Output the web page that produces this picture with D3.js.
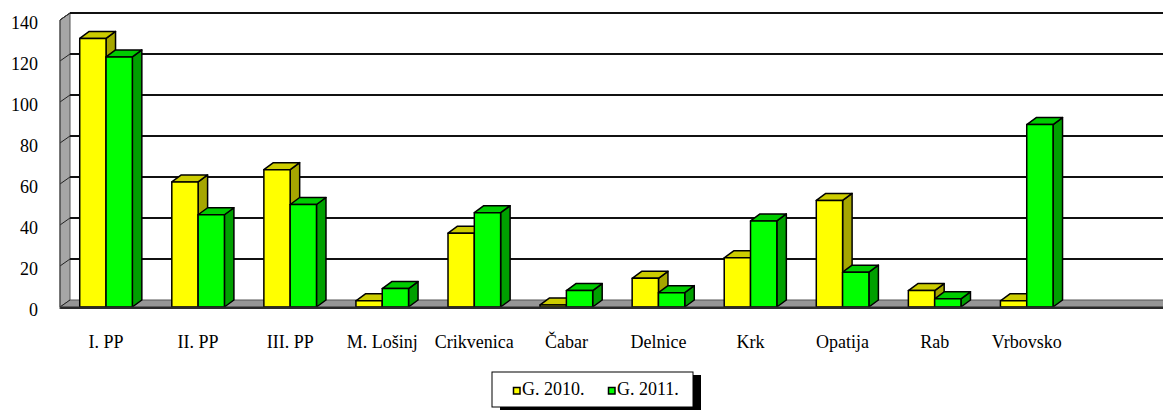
<!DOCTYPE html>
<html>
<head>
<meta charset="utf-8">
<script src="https://cdn.jsdelivr.net/npm/d3@7"></script>
<style>
  body { margin: 0; background: #fff; }
  svg { display: block; }
  svg text { font-family: "Liberation Serif", "Times New Roman", serif !important; font-size: 18px; fill: #000; }
</style>
</head>
<body>
<script>
// Data
const categories = ["I. PP", "II. PP", "III. PP", "M. Lošinj", "Crikvenica", "Čabar", "Delnice", "Krk", "Opatija", "Rab", "Vrbovsko"];
const seriesNames = ["G. 2010.", "G. 2011."];
const values2010 = [131, 61, 67, 3, 36, 1, 14, 24, 52, 8, 3];
const values2011 = [122, 45, 50, 9, 46, 8, 7, 42, 17, 4, 89];
const yTicks = [0, 20, 40, 60, 80, 100, 120, 140];

const series = [
  { name: seriesNames[0], values: values2010, front: "#ffff00", top: "#cccc00", side: "#a6a600" },
  { name: seriesNames[1], values: values2011, front: "#00ff00", top: "#00cc00", side: "#00a000" },
];

const width = 1163, height = 410;
const x0 = 60;          // front left corner of the floor
const slot = 92.07;     // width of one category slot
const DX = 10, DY = 7;  // 3d depth offset of walls / floor
const BDX = 9.5;        // depth offset of bars

const svg = d3.select("body").append("svg")
  .attr("width", width)
  .attr("height", height);

// scales
const x = d3.scaleBand().domain(categories).range([x0, x0 + categories.length * slot]);
const xs = d3.scaleBand().domain(seriesNames).range([0, x.bandwidth()]).paddingOuter(0.75);
const yBack = d3.scaleLinear().domain([0, 140]).range([300, 13]);
const yFront = d3.scaleLinear().domain([0, 140]).range([300 + DY, 13 + DY]);

const right = x0 + 12 * slot + DX + 20;

// left wall
svg.append("path")
  .attr("d", `M${x0},${yFront(0)} L${x0},${yFront(140)} L${x0 + DX},${yBack(140)} L${x0 + DX},${yBack(0)} Z`)
  .attr("fill", "#a6a6a6")
  .attr("stroke", "#555")
  .attr("stroke-width", 1);

// floor
svg.append("path")
  .attr("d", `M${x0},${yFront(0)} L${x0 + DX},${yBack(0)} L${right},${yBack(0)} L${right},${yFront(0)} Z`)
  .attr("fill", "#969696");

// gridlines on back wall + side wall
const grid = svg.append("g");
grid.selectAll("line.back")
  .data(yTicks.filter((d) => d > 0))
  .enter()
  .append("line")
  .attr("class", "back")
  .attr("x1", x0 + DX)
  .attr("x2", right)
  .attr("y1", (d) => yBack(d))
  .attr("y2", (d) => yBack(d))
  .attr("stroke", "#111")
  .attr("stroke-width", 2);

grid.selectAll("line.side")
  .data(yTicks)
  .enter()
  .append("line")
  .attr("class", "side")
  .attr("x1", x0)
  .attr("x2", x0 + DX)
  .attr("y1", (d) => yFront(d))
  .attr("y2", (d) => yBack(d))
  .attr("stroke", "#222")
  .attr("stroke-width", 1);

// floor back edge
svg.append("line")
  .attr("x1", x0 + DX).attr("x2", right)
  .attr("y1", yBack(0)).attr("y2", yBack(0))
  .attr("stroke", "#555").attr("stroke-width", 1);

// bars
const bars = svg.append("g");
categories.forEach((c, i) => {
  series.forEach((s) => {
    const v = s.values[i];
    const bx = x(c) + xs(s.name);
    const bw = xs.bandwidth();
    const yt = yFront(v);
    const yb = yFront(0);
    const g = bars.append("g")
      .attr("stroke", "#000")
      .attr("stroke-width", 1.5)
      .attr("stroke-linejoin", "round");
    // side
    g.append("path")
      .attr("d", `M${bx + bw},${yt} L${bx + bw + BDX},${yt - DY} L${bx + bw + BDX},${yb - DY} L${bx + bw},${yb} Z`)
      .attr("fill", s.side);
    // top
    g.append("path")
      .attr("d", `M${bx},${yt} L${bx + BDX},${yt - DY} L${bx + bw + BDX},${yt - DY} L${bx + bw},${yt} Z`)
      .attr("fill", s.top);
    // front
    g.append("rect")
      .attr("x", bx)
      .attr("y", yt)
      .attr("width", bw)
      .attr("height", yb - yt)
      .attr("fill", s.front);
  });
});

// floor front edge
svg.append("line")
  .attr("x1", x0).attr("x2", right)
  .attr("y1", yFront(0) + 0.8).attr("y2", yFront(0) + 0.8)
  .attr("stroke", "#2a2a2a").attr("stroke-width", 2.5);

// left front axis line
svg.append("line")
  .attr("x1", x0).attr("x2", x0)
  .attr("y1", yFront(140)).attr("y2", yFront(0) + 2)
  .attr("stroke", "#444").attr("stroke-width", 1);

// top edge of side wall
svg.append("line")
  .attr("x1", x0).attr("y1", yFront(140))
  .attr("x2", x0 + DX).attr("y2", yBack(140))
  .attr("stroke", "#333").attr("stroke-width", 1);

// Y axis labels
const yAxis = d3.axisLeft(yFront).tickValues(yTicks).tickSize(0).tickPadding(0);
svg.append("g")
  .attr("transform", "translate(38,2.5)")
  .attr("font-family", "Liberation Serif")
  .attr("font-size", 18)
  .call(yAxis)
  .call((g) => g.select(".domain").remove())
  .selectAll("text")
  .style("font-family", "'Liberation Serif', serif")
  .style("font-size", "18px")
  .attr("fill", "#000");

// X axis labels
const xAxis = d3.axisBottom(x).tickSize(0).tickPadding(28.5);
svg.append("g")
  .attr("transform", `translate(0,${yFront(0)})`)
  .attr("font-family", "Liberation Serif")
  .attr("font-size", 18)
  .call(xAxis)
  .call((g) => g.select(".domain").remove())
  .selectAll("text")
  .style("font-family", "'Liberation Serif', serif")
  .style("font-size", "18px")
  .attr("fill", "#000");

// legend
const legend = svg.append("g").attr("transform", "translate(492,372)");
legend.append("rect")
  .attr("x", 8).attr("y", 3)
  .attr("width", 201).attr("height", 35)
  .attr("fill", "#000");
legend.append("rect")
  .attr("x", 0).attr("y", 0)
  .attr("width", 201).attr("height", 35)
  .attr("fill", "#fff")
  .attr("stroke", "#000")
  .attr("stroke-width", 1);

const legendX = [21.5, 116.5];
series.forEach((s, i) => {
  legend.append("rect")
    .attr("x", legendX[i])
    .attr("y", 15.5)
    .attr("width", 6.5)
    .attr("height", 6.5)
    .attr("fill", s.front)
    .attr("stroke", "#000")
    .attr("stroke-width", 1.5);
  legend.append("text")
    .attr("x", legendX[i] + 8.5)
    .attr("y", 22.5)
    .text(s.name);
});
</script>
</body>
</html>
